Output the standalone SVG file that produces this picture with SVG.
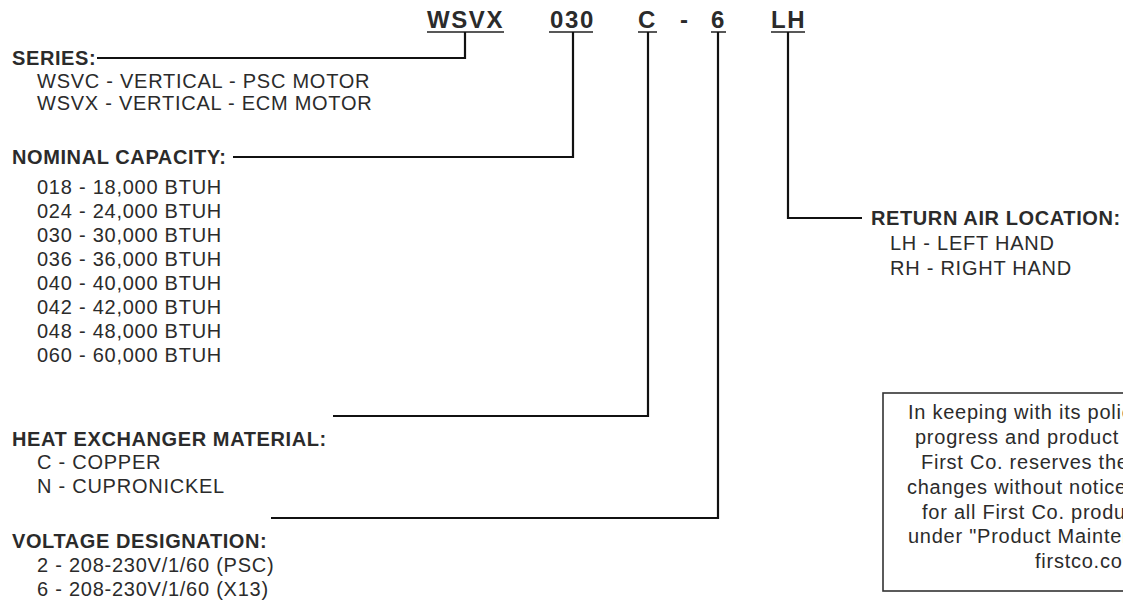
<svg xmlns="http://www.w3.org/2000/svg" width="1123" height="603" viewBox="0 0 1123 603">
<style>
text{font-family:"Liberation Sans",Arial,sans-serif;fill:#2b2b2b}
.code{font-size:24px;font-weight:bold;letter-spacing:1.6px}
.h{font-size:20px;font-weight:bold;letter-spacing:0.6px}
.t{font-size:20px;letter-spacing:0.75px}
.ul{stroke:#222;stroke-width:1.6;fill:none}
.c{stroke:#111;stroke-width:2.2;fill:none}
</style>
<rect width="1123" height="603" fill="#fff"/>
<g id="model-code">
<text class="code" x="427" y="28">WSVX</text>
<text class="code" x="550" y="28">030</text>
<text class="code" x="638" y="28">C</text>
<text class="code" x="680" y="28">-</text>
<text class="code" x="711" y="28">6</text>
<text class="code" x="771" y="28">LH</text>
<path class="ul" d="M427 32H504M549 32H593M638 32H657M711 32H726M771 32H805"/>
</g>
<g id="connectors">
<path class="c" d="M465 32V58H97"/>
<path class="c" d="M573 32V157H233"/>
<path class="c" d="M648 32V416H333"/>
<path class="c" d="M718 32V518H271"/>
<path class="c" d="M788 32V218H862"/>
</g>
<g id="series">
<text class="h" x="12" y="65">SERIES:</text>
<text class="t" x="37" y="88">WSVC - VERTICAL - PSC MOTOR</text>
<text class="t" x="37" y="110">WSVX - VERTICAL - ECM MOTOR</text>
</g>
<g id="nominal-capacity">
<text class="h" x="12" y="164">NOMINAL CAPACITY:</text>
<text class="t" x="37" y="194">018 - 18,000 BTUH</text>
<text class="t" x="37" y="218">024 - 24,000 BTUH</text>
<text class="t" x="37" y="242">030 - 30,000 BTUH</text>
<text class="t" x="37" y="266">036 - 36,000 BTUH</text>
<text class="t" x="37" y="290">040 - 40,000 BTUH</text>
<text class="t" x="37" y="314">042 - 42,000 BTUH</text>
<text class="t" x="37" y="338">048 - 48,000 BTUH</text>
<text class="t" x="37" y="362">060 - 60,000 BTUH</text>
</g>
<g id="heat-exchanger-material">
<text class="h" x="12" y="446">HEAT EXCHANGER MATERIAL:</text>
<text class="t" x="37" y="469">C - COPPER</text>
<text class="t" x="37" y="493">N - CUPRONICKEL</text>
</g>
<g id="voltage-designation">
<text class="h" x="12" y="548">VOLTAGE DESIGNATION:</text>
<text class="t" x="37" y="572">2 - 208-230V/1/60 (PSC)</text>
<text class="t" x="37" y="596">6 - 208-230V/1/60 (X13)</text>
</g>
<g id="return-air-location">
<text class="h" x="871" y="225">RETURN AIR LOCATION:</text>
<text class="t" x="890" y="250">LH - LEFT HAND</text>
<text class="t" x="890" y="275">RH - RIGHT HAND</text>
</g>
<g id="note">
<rect x="883" y="393" width="260" height="198" fill="#fff" stroke="#333" stroke-width="1.6"/>
<text class="t" x="908" y="419">In keeping with its policy</text>
<text class="t" x="915" y="444">progress and product</text>
<text class="t" x="921" y="469">First Co. reserves the</text>
<text class="t" x="907" y="494">changes without notice</text>
<text class="t" x="922" y="519">for all First Co. product</text>
<text class="t" x="908" y="543">under "Product Mainten</text>
<text class="t" x="1035" y="568">firstco.com</text>
</g>
</svg>
